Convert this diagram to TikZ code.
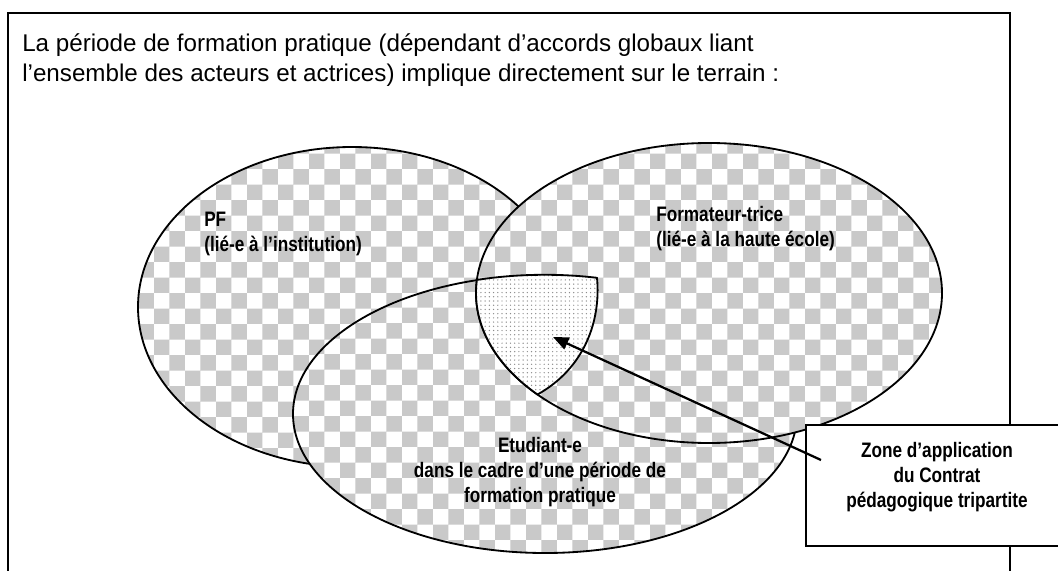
\documentclass[tikz,border=0pt]{standalone}
\usepackage{fontspec}
\setmainfont{Liberation Sans}
\newfontfamily\lblfont[FakeStretch=0.82,Ligatures=TeX]{Liberation Sans}
\usetikzlibrary{patterns,arrows.meta}

% checkerboard fill of the three circles
\pgfdeclarepatternformonly{checks}{\pgfqpoint{0pt}{0pt}}{\pgfqpoint{22pt}{22pt}}{\pgfqpoint{22pt}{22pt}}{%
  \pgfpathrectangle{\pgfqpoint{0pt}{0pt}}{\pgfqpoint{11pt}{11pt}}%
  \pgfpathrectangle{\pgfqpoint{11pt}{11pt}}{\pgfqpoint{11pt}{11pt}}%
  \pgfusepath{fill}}

\tikzset{
  venn/.style={preaction={fill=white}, pattern=checks, pattern color=gray!42, draw, line width=1.3pt},
  zonefill/.style={preaction={fill=white}, pattern=dots, pattern color=gray!90, draw, line width=1.3pt},
  lbl/.style={font=\lblfont\bfseries\fontsize{14.9pt}{17.8pt}\selectfont, inner sep=0pt},
  pointer/.style={line width=1.6pt, -{Triangle[length=11pt,width=9pt]}}
}

\begin{document}
\begin{tikzpicture}[x=0.025cm, y=-0.025cm]
\useasboundingbox (0,0) rectangle (1058,571);

% frame
\draw[line width=1.2pt] (8,575) -- (8,13) -- (1010,13) -- (1010,575);
\node[anchor=north west, align=left, inner sep=0pt, font=\fontsize{17.2pt}{21.3pt}\selectfont] (titre) at (22,33)
  {La période de formation pratique (dépendant d'accords globaux liant\\
   l'ensemble des acteurs et actrices) implique directement sur le terrain :};

% the three circles
\path[venn] (352,307) ellipse [x radius=214, y radius=160];
\path[venn] (545,414) ellipse [x radius=252, y radius=139];
\path[venn] (709,293) ellipse [x radius=233, y radius=150];

% zone of the contract
\path[zonefill] (597,278) .. controls (601,320) and (585,368) .. (537.5,394.5)
  arc [start angle=137.4, end angle=185, x radius=233, y radius=150]
  arc [start angle=254.4, end angle=281.9, x radius=252, y radius=139] -- cycle;

\node[lbl, anchor=west, align=left] (pf) at (204,234) {PF\\(lié-e à l'institution)};
\node[lbl, anchor=west, align=left] (form) at (656,229) {Formateur-trice\\(lié-e à la haute école)};
\node[lbl, align=center] (etud) at (540,472) {Etudiant-e\\dans le cadre d'une période de\\formation pratique};

\node[draw, line width=1.3pt, fill=white, minimum width=262*0.025cm, minimum height=121*0.025cm] (zonebox) at (937,485.5) {};
\node[lbl, align=center] (zone) at (937,477) {Zone d'application\\du Contrat\\pédagogique tripartite};

\coordinate (tail) at (821,460);
\coordinate (tip) at (553,337);
\draw[pointer] (tail) -- (tip);
\end{tikzpicture}
\end{document}
